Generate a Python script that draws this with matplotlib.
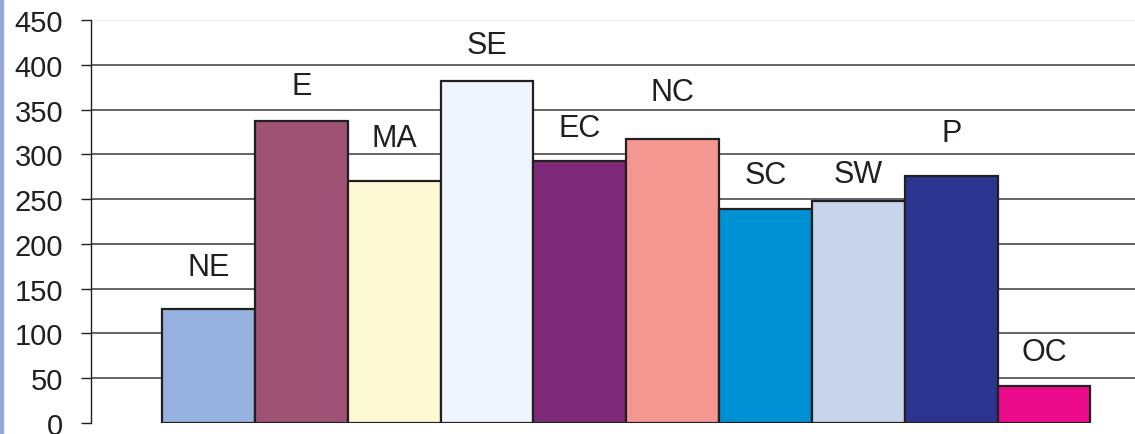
import matplotlib.pyplot as plt
from matplotlib.patches import Rectangle

# 区域名称与数值
regions = ['NE', 'E', 'MA', 'SE', 'EC', 'NC', 'SC', 'SW', 'P', 'OC']
values = [127, 337, 270, 382, 292, 317, 239, 248, 276, 41]
colors = ['#95b3de', '#a05275', '#fdf9d3', '#eef5fd', '#7f2a79',
          '#f49790', '#0091d5', '#c8d4ea', '#2b358f', '#ec0c8b']
# 标签离柱顶的高度（数据单位）
label_offsets = [31, 23, 31, 23, 21, 36, 21, 13, 31, 21]
yticks = [0, 50, 100, 150, 200, 250, 300, 350, 400, 450]

ink = '#231f20'
plt.rcParams['font.family'] = ['Liberation Sans', 'DejaVu Sans']

fig = plt.figure(figsize=(11.35, 4.35), dpi=100)
ax = fig.add_axes([91 / 1135, 11 / 435, 1 - 91 / 1135, 1 - 32 / 435])

# 网格线
for y in yticks[1:-1]:
    ax.axhline(y, color='#4a4a4a', linewidth=1.2, zorder=0)
ax.axhline(450, color='#eeeeee', linewidth=1.0, zorder=0)

x = list(range(len(regions)))
ax.bar(x, values, width=1.0, color=colors, edgecolor=ink, linewidth=1.6, zorder=2)

for xi, v, name, off in zip(x, values, regions, label_offsets):
    ax.text(xi, v + off, name, ha='center', va='bottom', fontsize=22, color=ink)

ax.set_xlim(-1.266, 9.98)
ax.set_ylim(0, 450)
ax.set_yticks(yticks)
ax.set_xticks([])
ax.tick_params(axis='y', direction='out', length=7, width=1.0, color=ink,
               labelsize=21, labelcolor=ink, pad=13)
for side in ['top', 'right', 'bottom']:
    ax.spines[side].set_visible(False)
ax.spines['left'].set_color(ink)
ax.spines['left'].set_linewidth(1.0)

# 左侧蓝色边线
fig.patches.append(Rectangle((0, 0), 2.5 / 1135, 1, transform=fig.transFigure,
                             color='#9aa6d8', zorder=0))

fig.savefig('out.png', dpi=100)
